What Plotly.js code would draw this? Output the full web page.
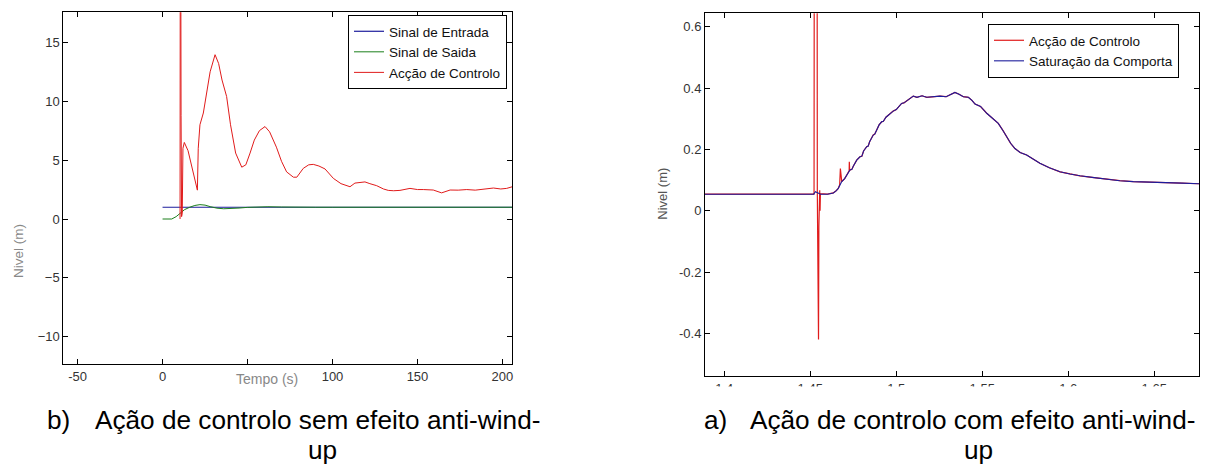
<!DOCTYPE html>
<html>
<head>
<meta charset="utf-8">
<script src="https://cdn.plot.ly/plotly-3.0.1.min.js"></script>
<style>html,body{margin:0;padding:0;background:#fff;}#chart{width:1205px;height:466px;}</style>
</head>
<body>
<div id="chart"></div>
<script>
// ---------- Left chart (b) : sem anti-wind-up ----------
const entradaT = [0, 206];
const entradaY = [1, 1];

const saidaT = [0, 5.4, 8, 10.3, 13, 16, 19, 22, 25, 28, 32, 36, 40, 45, 50, 55, 62, 70, 78, 85, 90, 100, 206];
const saidaY = [0, 0, 0.2, 0.48, 0.8, 1.0, 1.15, 1.22, 1.18, 1.05, 0.92, 0.87, 0.88, 0.93, 0.99, 1.03, 1.04, 1.02, 0.99, 0.98, 1.0, 1.0, 1.0];

const accaoT = [10.3, 10.5, 10.9, 11.2, 11.4, 11.6, 12.0, 12.8, 15, 17.2, 20.5, 21, 22, 24, 26, 28, 30.9, 33, 35, 37.7, 40, 43, 46.6, 49, 51.5, 54, 57, 60.3, 63, 67, 70, 73, 77, 79, 82.8, 86, 88.7, 92, 95.6, 100.5, 105, 110.3, 113.2, 116, 119.1, 122, 126, 130, 132.8, 136, 139.7, 145.6, 150, 153.4, 159.3, 164.2, 169.2, 174, 179, 184, 188.8, 194.7, 199, 202.5, 205.8];
const accaoY = [0, 40, 8.8, 0.2, 3.5, 0.5, 6.0, 6.5, 5.8, 4.4, 2.45, 6.0, 8.0, 9.0, 10.6, 12.5, 13.95, 13.2, 11.8, 10.4, 8.0, 5.6, 4.4, 4.6, 5.6, 6.7, 7.5, 7.85, 7.4, 6.1, 4.9, 4.0, 3.55, 3.55, 4.3, 4.6, 4.64, 4.5, 4.25, 3.45, 3.0, 2.74, 3.05, 3.1, 3.15, 3.0, 2.83, 2.55, 2.43, 2.4, 2.43, 2.6, 2.5, 2.5, 2.46, 2.22, 2.46, 2.45, 2.5, 2.45, 2.55, 2.63, 2.55, 2.6, 2.74];

const leftXTicks = [-50, 0, 50, 100, 150, 200];
const leftXTickText = ['-50', '0', '', '100', '150', '200'];
const leftYTicks = [-10, -5, 0, 5, 10, 15];

// ---------- Right chart (a) : com anti-wind-up ----------
const satT = [1.3888, 1.4400, 1.4520, 1.4530, 1.4545, 1.4560, 1.4600, 1.4634, 1.4650, 1.4663, 1.4683, 1.4700, 1.4731, 1.4742, 1.4750, 1.4770, 1.4789, 1.4800, 1.4810, 1.4828, 1.4837, 1.4845, 1.4866, 1.4875, 1.4885, 1.4900, 1.4915, 1.4925, 1.4940, 1.4973, 1.4982, 1.5000, 1.5031, 1.5045, 1.5060, 1.5099, 1.5120, 1.5150, 1.5177, 1.5210, 1.5254, 1.5290, 1.5320, 1.5341, 1.5365, 1.5390, 1.5419, 1.5440, 1.5458, 1.5490, 1.5526, 1.5560, 1.5593, 1.5620, 1.5642, 1.5665, 1.5690, 1.5720, 1.5758, 1.5800, 1.5835, 1.5890, 1.5952, 1.6010, 1.6068, 1.6150, 1.6223, 1.6300, 1.6378, 1.6470, 1.6572, 1.6660, 1.6760];
const satY = [0.054, 0.054, 0.054, 0.062, 0.058, 0.054, 0.054, 0.058, 0.065, 0.073, 0.095, 0.105, 0.133, 0.135, 0.145, 0.165, 0.176, 0.178, 0.195, 0.209, 0.211, 0.225, 0.247, 0.25, 0.262, 0.28, 0.29, 0.292, 0.305, 0.323, 0.325, 0.33, 0.35, 0.352, 0.358, 0.374, 0.37, 0.375, 0.37, 0.372, 0.374, 0.372, 0.38, 0.386, 0.38, 0.372, 0.37, 0.36, 0.348, 0.34, 0.318, 0.302, 0.285, 0.262, 0.241, 0.22, 0.203, 0.19, 0.182, 0.168, 0.155, 0.14, 0.127, 0.12, 0.114, 0.108, 0.102, 0.098, 0.095, 0.094, 0.0925, 0.09, 0.088];

// control action spikes (where it departs from the saturated signal)
const spikeT = [1.4522, 1.4524, 1.4539, 1.4541, 1.4543, 1.4546, 1.4548, 1.4550, 1.4552, 1.4555, 1.4557, 1.4559, 1.4671, 1.4672, 1.4673, 1.4675, 1.4726, 1.4727, 1.4729];
const spikeY = [0.054, 1.5, 1.5, 0.06, -0.09, -0.35, -0.42, -0.05, 0.0, 0.067, 0.0, 0.056, 0.085, 0.13, 0.09, 0.138, 0.13, 0.16, 0.134];

const rightXTicks = [1.4, 1.45, 1.5, 1.55, 1.6, 1.65];
const rightXTickText = ['1.4', '1.45', '1.5', '1.55', '1.6', '1.65'];
const rightYTicks = [-0.4, -0.2, 0, 0.2, 0.4, 0.6];
const rightYTickText = ['-0.4', '-0.2', '0', '0.2', '0.4', '0.6'];

// build control-action series = saturated signal with spikes merged in
const ctrlPts = [];
satT.forEach((t, i) => { if (t < 1.4521 || t > 1.4560) ctrlPts.push([t, satY[i]]); });
spikeT.forEach((t, i) => ctrlPts.push([t, spikeY[i]]));
ctrlPts.sort((a, b) => a[0] - b[0]);
const ctrlT = ctrlPts.map(p => p[0]);
const ctrlY = ctrlPts.map(p => p[1]);

// ---------- geometry ----------
const W = 1205, H = 466;
const px = x => x / W;
const py = y => 1 - y / H;

const FONT = 'Liberation Sans, Arial, sans-serif';
const RED = '#e01b1b', BLUE = '#1c1c9c', GREEN = '#1b7f1b';
const CAP = {family: FONT, size: 26.2, color: '#000'};

const traces = [
  {x: entradaT, y: entradaY, type: 'scatter', mode: 'lines', name: 'Sinal de Entrada',
   line: {color: BLUE, width: 1.2}, xaxis: 'x', yaxis: 'y', legend: 'legend'},
  {x: saidaT, y: saidaY, type: 'scatter', mode: 'lines', name: 'Sinal de Saida',
   line: {color: GREEN, width: 1}, xaxis: 'x', yaxis: 'y', legend: 'legend'},
  {x: accaoT, y: accaoY, type: 'scatter', mode: 'lines', name: 'Acção de Controlo',
   line: {color: RED, width: 1}, xaxis: 'x', yaxis: 'y', legend: 'legend'},
  {x: ctrlT, y: ctrlY, type: 'scatter', mode: 'lines', name: 'Acção de Controlo',
   line: {color: RED, width: 1.2}, xaxis: 'x2', yaxis: 'y2', legend: 'legend2'},
  {x: satT, y: satY, type: 'scatter', mode: 'lines', name: 'Saturação da Comporta',
   line: {color: BLUE, width: 1.1}, xaxis: 'x2', yaxis: 'y2', legend: 'legend2'}
];

const axisBase = {
  showline: true, linecolor: '#000', linewidth: 1, mirror: 'ticks',
  ticks: 'inside', ticklen: 5, tickcolor: '#000', tickwidth: 1,
  showgrid: false, zeroline: false, fixedrange: true,
  tickfont: {family: FONT, size: 13, color: '#333'}
};

const layout = {
  width: W, height: H,
  margin: {l: 0, r: 0, t: 0, b: 0},
  paper_bgcolor: '#fff', plot_bgcolor: '#fff',
  showlegend: true,
  xaxis: Object.assign({}, axisBase, {domain: [px(63.3), px(512.3)], range: [-58.4, 205.8],
    tickmode: 'array', tickvals: leftXTicks, ticktext: leftXTickText, anchor: 'y'}),
  yaxis: Object.assign({}, axisBase, {domain: [py(364), py(12.3)], range: [-12.31, 17.55],
    tickmode: 'array', tickvals: leftYTicks, anchor: 'x'}),
  xaxis2: Object.assign({}, axisBase, {domain: [px(705), px(1199)], range: [1.3888, 1.676],
    tickmode: 'array', tickvals: rightXTicks, ticktext: rightXTickText, anchor: 'y2'}),
  yaxis2: Object.assign({}, axisBase, {domain: [py(376), py(13.3)], range: [-0.539, 0.644],
    tickmode: 'array', tickvals: rightYTicks, ticktext: rightYTickText, anchor: 'x2'}),
  legend: {x: px(507), xanchor: 'right', y: py(15), yanchor: 'top',
    bgcolor: '#fff', bordercolor: '#000', borderwidth: 1,
    font: {family: FONT, size: 13.5, color: '#111'}, tracegroupgap: 0},
  legend2: {x: px(1179), xanchor: 'right', y: py(24), yanchor: 'top',
    bgcolor: '#fff', bordercolor: '#000', borderwidth: 1,
    font: {family: FONT, size: 13.5, color: '#111'}, tracegroupgap: 0},
  shapes: [
    // the reference's lower tick labels of chart (a) are cut off by the caption area
    {type: 'rect', xref: 'paper', yref: 'paper', x0: px(690), x1: 1, y0: py(402), y1: py(386.5),
     fillcolor: '#fff', line: {width: 0}, layer: 'above'}
  ],
  annotations: [
    {text: 'Tempo (s)', xref: 'paper', yref: 'paper', x: px(267), y: py(379), showarrow: false,
     xanchor: 'center', yanchor: 'middle', font: {family: FONT, size: 14, color: '#888'}},
    {text: 'Nivel (m)', xref: 'paper', yref: 'paper', x: px(18.3), y: py(250.7), showarrow: false,
     textangle: -90, xanchor: 'center', yanchor: 'middle', font: {family: FONT, size: 13.5, color: '#888'}},
    {text: 'Nivel (m)', xref: 'paper', yref: 'paper', x: px(661.7), y: py(194), showarrow: false,
     textangle: -90, xanchor: 'center', yanchor: 'middle', font: {family: FONT, size: 13, color: '#555'}},
    // captions
    {text: 'b)', xref: 'paper', yref: 'paper', x: px(45), y: py(420), showarrow: false,
     xanchor: 'left', yanchor: 'middle', font: CAP},
    {text: 'Ação de controlo sem efeito anti-wind-', xref: 'paper', yref: 'paper', x: px(93), y: py(420), showarrow: false,
     xanchor: 'left', yanchor: 'middle', font: CAP},
    {text: 'up', xref: 'paper', yref: 'paper', x: px(322.5), y: py(450), showarrow: false,
     xanchor: 'center', yanchor: 'middle', font: CAP},
    {text: 'a)', xref: 'paper', yref: 'paper', x: px(701.7), y: py(420), showarrow: false,
     xanchor: 'left', yanchor: 'middle', font: CAP},
    {text: 'Ação de controlo com efeito anti-wind-', xref: 'paper', yref: 'paper', x: px(748.3), y: py(420), showarrow: false,
     xanchor: 'left', yanchor: 'middle', font: CAP},
    {text: 'up', xref: 'paper', yref: 'paper', x: px(978), y: py(450), showarrow: false,
     xanchor: 'center', yanchor: 'middle', font: CAP}
  ]
};

Plotly.newPlot('chart', traces, layout, {displayModeBar: false, staticPlot: true});
</script>
</body>
</html>
